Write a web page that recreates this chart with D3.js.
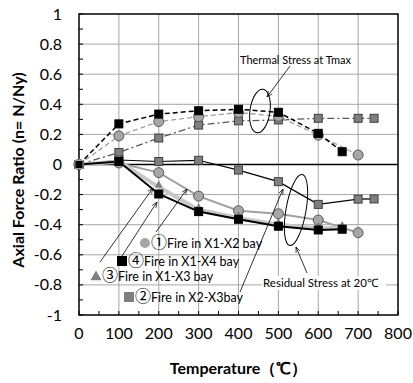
<!DOCTYPE html>
<html>
<head>
<meta charset="utf-8">
<title>Axial force ratio</title>
<script src="https://cdn.jsdelivr.net/npm/d3@7"></script>
<style>
	html, body { margin:0; background:#fff; }
	svg text { font-family: Lato, "Open Sans", sans-serif; fill:#000; }
	.cjk { font-family: "Noto Sans CJK JP", sans-serif; }
</style>
</head>
<body>
<svg id="chart" width="413" height="383"></svg>
<script>
// x ticks / y ticks
var xTicks = [0,100,200,300,400,500,600,700,800];
var yTicks = [1,0.8,0.6,0.4,0.2,0,-0.2,-0.4,-0.6,-0.8,-1];

// thermal stress at Tmax (dashed)
var t4Thermal = [0,100,200,300,400,500,600,660];
var v4Thermal = [0,0.27,0.335,0.357,0.367,0.347,0.207,0.085];
var t1Thermal = [0,100,200,300,400,500,600,700];
var v1Thermal = [0,0.19,0.285,0.318,0.345,0.32,0.195,0.063];
var t2Thermal = [0,100,200,300,400,500,600,700,740];
var v2Thermal = [0,0.08,0.176,0.262,0.29,0.296,0.307,0.307,0.307];

// residual stress at 20C (solid)
var t2Resid = [0,100,200,300,400,500,600,700,740];
var v2Resid = [0,0.03,0.02,0.028,-0.037,-0.114,-0.265,-0.23,-0.229];
var t1Resid = [0,100,200,300,400,500,600,700];
var v1Resid = [0,0.01,-0.054,-0.21,-0.307,-0.327,-0.369,-0.453];
var t3Resid = [0,100,200,300,400,500,600,660];
var v3Resid = [0,0.02,-0.15,-0.3,-0.355,-0.4,-0.425,-0.42];
var t4Resid = [0,100,200,300,400,500,600,660];
var v4Resid = [0,0.02,-0.196,-0.313,-0.364,-0.41,-0.435,-0.43];

var legendNums = ["①","④","③","②"];
var legendLabels = ["Fire in X1-X2 bay","Fire in X1-X4 bay","Fire in X1-X3 bay","Fire in X2-X3bay"];

var svg = d3.select("#chart");
var x = d3.scaleLinear().domain([0,800]).range([79,398]);
var y = d3.scaleLinear().domain([-1,1]).range([315,14]);

function zip(ts, vs){ return ts.map(function(t,i){ return {t:t, v:vs[i]}; }); }
var line = d3.line().x(function(d){ return x(d.t); }).y(function(d){ return y(d.v); });

// arrow marker
svg.append("defs").append("marker")
	.attr("id","arr").attr("viewBox","0 0 10 10").attr("refX",10).attr("refY",5)
	.attr("markerWidth",7).attr("markerHeight",7).attr("orient","auto")
	.append("path").attr("d","M0,1 L10,5 L0,9").attr("fill","none").attr("stroke","#000").attr("stroke-width",1.2);

// grid
var g = svg.append("g");
g.selectAll(".vg").data(d3.range(100,800,100)).enter().append("line")
	.attr("x1",x).attr("x2",x).attr("y1",y(1)).attr("y2",y(-1))
	.attr("stroke","#a6a6a6").attr("stroke-width",1);
g.selectAll(".hg").data(yTicks.filter(function(d){ return d!==0 && Math.abs(d)!==1; })).enter().append("line")
	.attr("x1",x(0)).attr("x2",x(800)).attr("y1",y).attr("y2",y)
	.attr("stroke","#a6a6a6").attr("stroke-width",1);

// inner ticks
g.selectAll(".yt").data(d3.range(-10,11).map(function(i){ return i/10; })).enter().append("line")
	.attr("x1",x(0)).attr("x2",x(0)+4).attr("y1",y).attr("y2",y)
	.attr("stroke","#000").attr("stroke-width",1);
g.selectAll(".xt").data(d3.range(0,801,50)).enter().append("line")
	.attr("x1",x).attr("x2",x).attr("y1",y(-1)).attr("y2",y(-1)-4)
	.attr("stroke","#000").attr("stroke-width",1);

// frame and zero line
g.append("rect").attr("x",x(0)).attr("y",y(1)).attr("width",x(800)-x(0)).attr("height",y(-1)-y(1))
	.attr("fill","none").attr("stroke","#000").attr("stroke-width",1.5);
g.append("line").attr("x1",x(0)).attr("x2",x(800)).attr("y1",y(0)).attr("y2",y(0))
	.attr("stroke","#000").attr("stroke-width",1.5);

// tick labels
svg.selectAll(".yl").data(yTicks).enter().append("text")
	.attr("x",62).attr("y",function(d){ return y(d)+5.5; })
	.attr("text-anchor","end").style("font-size","16px")
	.text(function(d){ return d; });
svg.selectAll(".xl").data(xTicks).enter().append("text")
	.attr("x",x).attr("y",339)
	.attr("text-anchor","middle").style("font-size","16px")
	.text(function(d){ return d; });

// axis titles
svg.append("text").attr("x",x(400)).attr("y",374).attr("text-anchor","middle")
	.style("font-size","16px").style("font-weight","bold").text("Temperature（℃）");
svg.append("text").attr("transform","translate(24,170) rotate(-90)").attr("text-anchor","middle")
	.style("font-size","16px").style("font-weight","bold").text("Axial Force Ratio (n= N/Ny)");

// series lines
function drawLine(ts, vs, color, width, dash){
	svg.append("path").datum(zip(ts,vs)).attr("d",line)
		.attr("fill","none").attr("stroke",color).attr("stroke-width",width)
		.attr("stroke-dasharray",dash || null);
}
function squares(ts, vs, fill, stroke, size){
	svg.append("g").selectAll("rect").data(zip(ts,vs)).enter().append("rect")
		.attr("x",function(d){ return x(d.t)-size/2; }).attr("y",function(d){ return y(d.v)-size/2; })
		.attr("width",size).attr("height",size)
		.attr("fill",fill).attr("stroke",stroke).attr("stroke-width",1);
}
function circles(ts, vs){
	svg.append("g").selectAll("circle").data(zip(ts,vs)).enter().append("circle")
		.attr("cx",function(d){ return x(d.t); }).attr("cy",function(d){ return y(d.v); }).attr("r",5)
		.attr("fill","#a6a6a6").attr("stroke","#595959").attr("stroke-width",1);
}
var tri = d3.symbol().type(d3.symbolTriangle).size(28);
function triangles(ts, vs){
	svg.append("g").selectAll("path").data(zip(ts,vs)).enter().append("path")
		.attr("d",tri).attr("transform",function(d){ return "translate("+x(d.t)+","+(y(d.v)-2)+")"; })
		.attr("fill","#7f7f7f");
}

// thermal
drawLine(t2Thermal, v2Thermal, "#595959", 1.3, "7,3,2,3");
drawLine(t1Thermal, v1Thermal, "#a0a0a0", 1.3, "5,3");
drawLine(t4Thermal, v4Thermal, "#000", 1.5, "5,3");
squares(t2Thermal, v2Thermal, "#7f7f7f", "#404040", 8);
circles(t1Thermal, v1Thermal);
squares(t4Thermal, v4Thermal, "#000", "#000", 8);

// residual
drawLine(t2Resid, v2Resid, "#000", 1.2);
drawLine(t1Resid, v1Resid, "#a0a0a0", 2);
drawLine(t3Resid, v3Resid, "#c8c8c8", 4);
drawLine(t4Resid, v4Resid, "#000", 2);
squares(t2Resid, v2Resid, "#7f7f7f", "#404040", 8);
circles(t1Resid, v1Resid);
triangles(t3Resid, v3Resid);
squares(t4Resid, v4Resid, "#000", "#000", 8);
squares([0],[0],"#000","#a0a0a0",8);

// legend labels inside plot
var lg = svg.append("g").style("font-size","12.5px");
function legendText(i, lx, ly){
	var t = lg.append("text").attr("x",lx).attr("y",ly);
	t.append("tspan").attr("class","cjk").style("font-size","16px").text(legendNums[i]);
	t.append("tspan").text(legendLabels[i]);
}
lg.append("circle").attr("cx",145).attr("cy",243).attr("r",5).attr("fill","#a6a6a6");
legendText(0,151,248);
lg.append("rect").attr("x",117).attr("y",256).attr("width",10).attr("height",10).attr("fill","#000");
legendText(1,128,266);
lg.append("path").attr("d",d3.symbol().type(d3.symbolTriangle).size(55)).attr("transform","translate(96,277)").attr("fill","#7f7f7f");
legendText(2,102,281);
lg.append("rect").attr("x",124).attr("y",292).attr("width",10).attr("height",10).attr("fill","#7f7f7f");
legendText(3,135,302);

// pointer lines
function arrow(x1,y1,x2,y2){
	svg.append("line").attr("x1",x1).attr("y1",y1).attr("x2",x2).attr("y2",y2)
		.attr("stroke","#000").attr("stroke-width",0.8).attr("marker-end","url(#arr)");
}
arrow(156,232,187,189);
arrow(122,256,157,202);
arrow(100,262,153,188);
arrow(240,292,283,189);

// annotations
svg.append("text").attr("x",240).attr("y",64).style("font-size","11px").text("Thermal Stress at Tmax");
arrow(290,66,267,97);
svg.append("ellipse").attr("cx",260).attr("cy",111).attr("rx",10).attr("ry",22)
	.attr("transform","rotate(8,260,111)").attr("fill","none").attr("stroke","#000").attr("stroke-width",1);

svg.append("rect").attr("x",262).attr("y",276).attr("width",124).attr("height",14).attr("fill","#fff");
svg.append("text").attr("x",263).attr("y",287).style("font-size","11.5px").text("Residual Stress at 20℃");
arrow(307,273,296,247);
svg.append("ellipse").attr("cx",296).attr("cy",210).attr("rx",10).attr("ry",36)
	.attr("transform","rotate(10,296,210)").attr("fill","none").attr("stroke","#000").attr("stroke-width",1);
</script>
</body>
</html>
